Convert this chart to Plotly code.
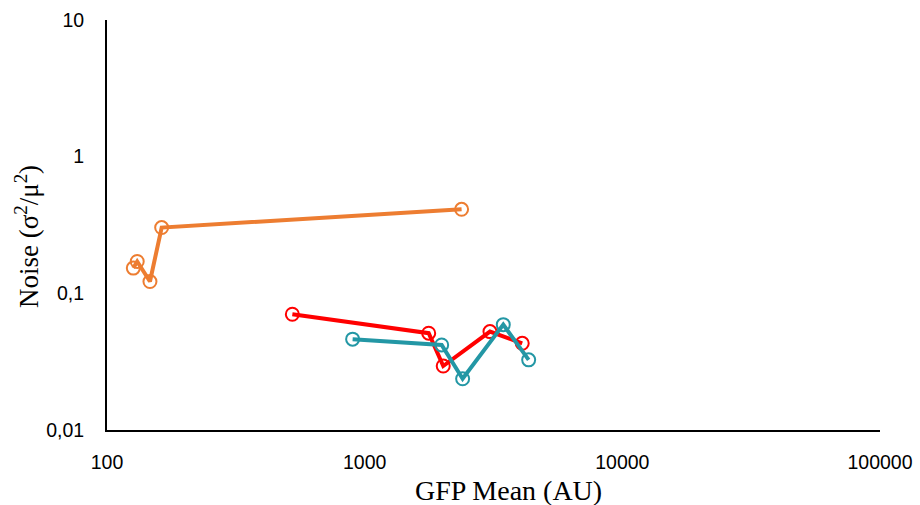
import plotly.graph_objects as go

orange_x = [126.5, 131, 146.8, 163, 2378]
orange_y = [0.153, 0.171, 0.122, 0.303, 0.412]
red_x = [524, 1772, 2018, 3064, 4088]
red_y = [0.0703, 0.0511, 0.0294, 0.0525, 0.0431]
teal_x = [898, 1990, 2400, 3451, 4330]
teal_y = [0.0462, 0.0419, 0.0237, 0.059, 0.0326]

x_ticks = [100, 1000, 10000, 100000]
x_ticklabels = ["100", "1000", "10000", "100000"]
y_ticks = [0.01, 0.1, 1, 10]
y_ticklabels = ["0,01", "0,1", "1", "10"]

fig = go.Figure()
for xs, ys, c in [(orange_x, orange_y, "#ED7D31"), (red_x, red_y, "#FF0000"), (teal_x, teal_y, "#2397A5")]:
    fig.add_trace(go.Scatter(
        x=xs, y=ys, mode="lines+markers",
        line=dict(color=c, width=4),
        marker=dict(symbol="circle-open", size=13, color=c, line=dict(width=2, color=c)),
        showlegend=False,
    ))

tick_font = dict(family="Liberation Sans", size=19.5, color="black")
fig.update_layout(
    width=920, height=505,
    margin=dict(l=107, r=40, t=20, b=75),
    paper_bgcolor="white", plot_bgcolor="white",
    font=dict(family="Liberation Sans", size=19, color="black"),
    annotations=[
        dict(text="GFP Mean (AU)", xref="paper", yref="paper", x=0.519, y=-0.148,
             xanchor="center", yanchor="middle", showarrow=False,
             font=dict(family="Liberation Serif", size=28, color="black")),
        dict(text="Noise (σ<sup>2</sup>/μ<sup>2</sup>)", xref="paper", yref="paper", x=-0.1035, y=0.473,
             xanchor="center", yanchor="middle", showarrow=False, textangle=-90,
             font=dict(family="Liberation Serif", size=27, color="black")),
    ],
)
fig.update_xaxes(
    type="log", range=[2, 5], tickvals=x_ticks, ticktext=x_ticklabels,
    showgrid=False, zeroline=False, showline=True, linecolor="black", linewidth=2,
    ticks="", ticklabelstandoff=14, automargin=False, tickfont=tick_font,
)
fig.update_yaxes(
    type="log", range=[-2, 1], tickvals=y_ticks, ticktext=y_ticklabels,
    showgrid=False, zeroline=False, showline=True, linecolor="black", linewidth=2,
    ticks="", ticklabelstandoff=17, automargin=False, tickfont=tick_font,
)
fig.write_html("out.html")
